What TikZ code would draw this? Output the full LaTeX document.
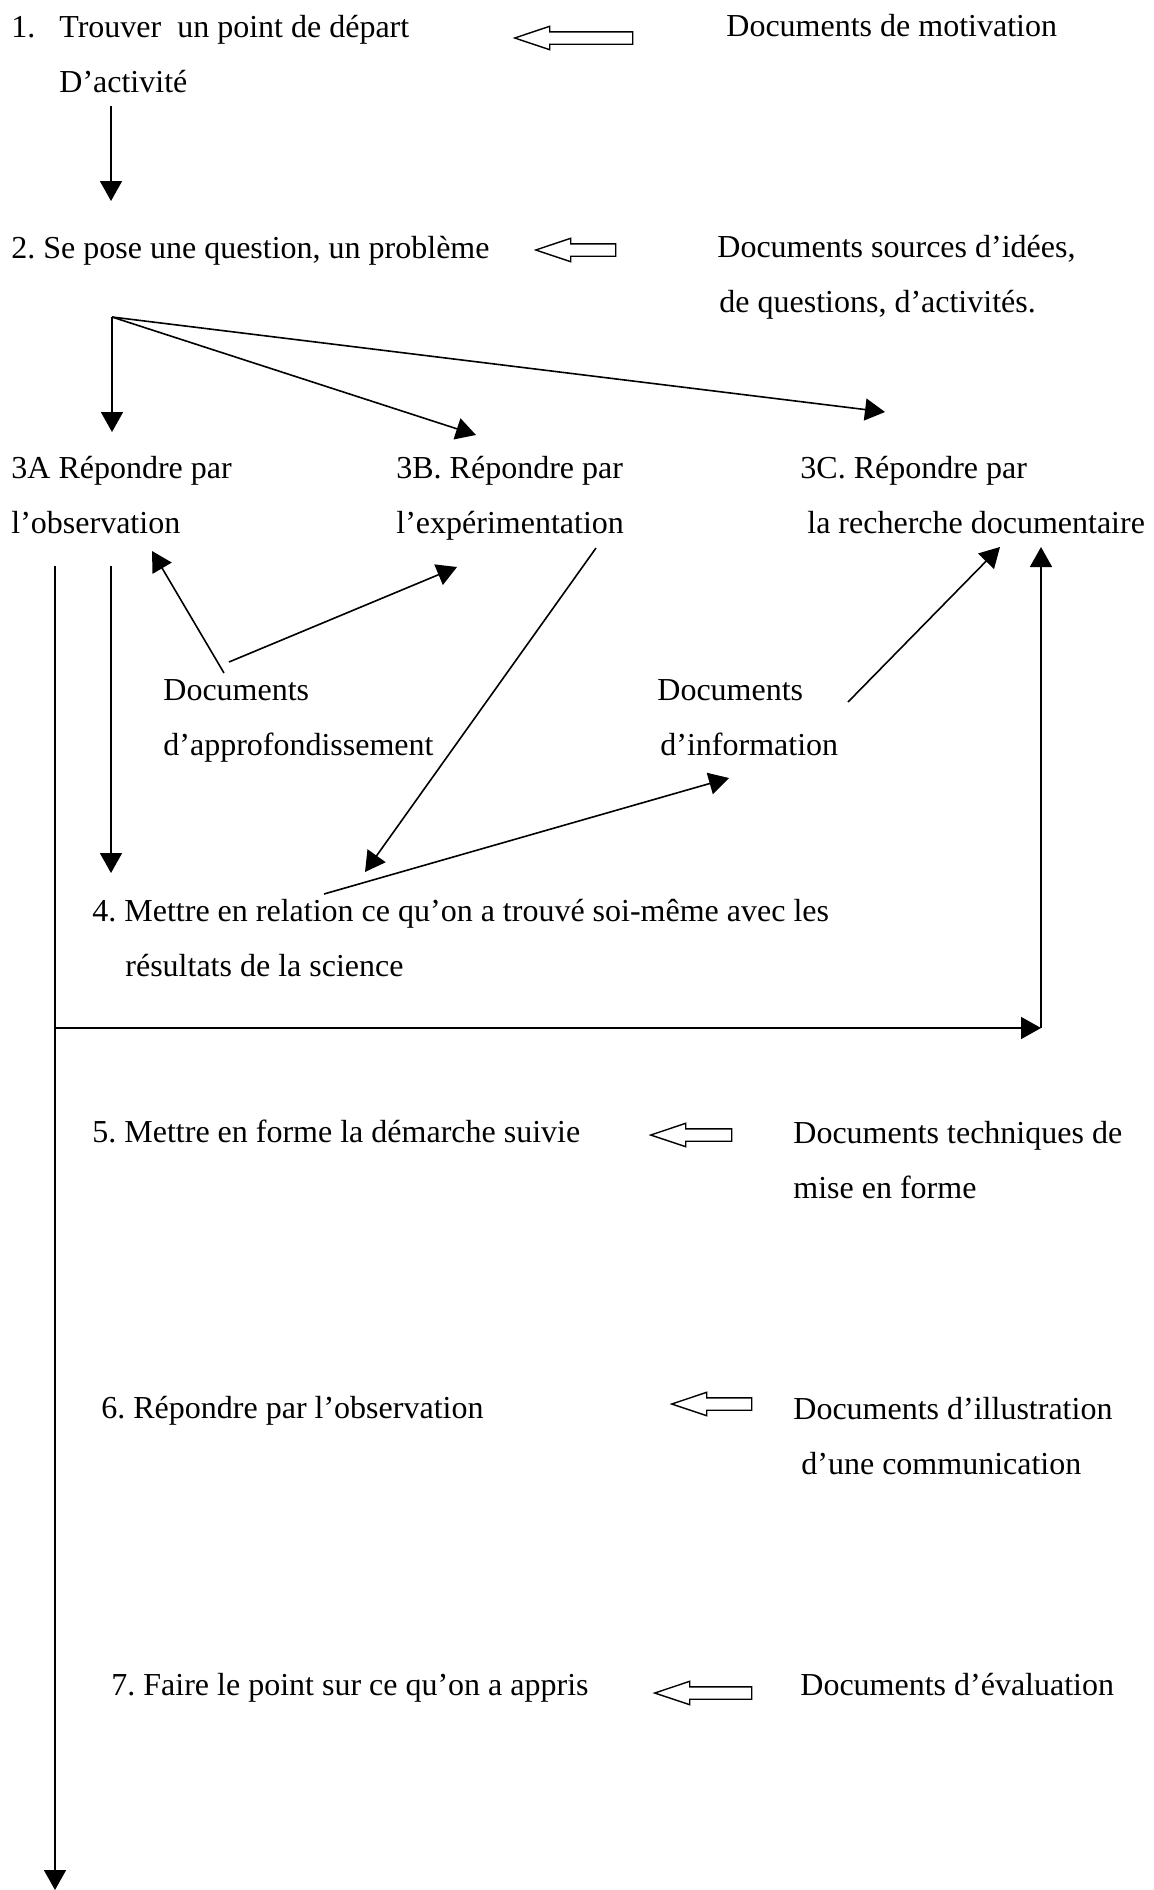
\documentclass[tikz,border=0pt]{standalone}
\usepackage{fontspec}
\setmainfont{Liberation Serif}
\usetikzlibrary{arrows.meta,shapes.arrows}
\tikzset{
  stepText/.style={anchor=base west, inner sep=0pt, align=left,
    font=\fontsize{16pt}{27.5pt}\selectfont\frenchspacing},
  docText/.style={stepText},
  flowArrow/.style={line width=0.8pt, -{Triangle[length=10pt,width=11pt]}},
  docArrow/.style={single arrow, draw, line width=0.7pt,
    shape border rotate=180, inner sep=0pt, inner ysep=2.75pt,
    single arrow head extend=2.75pt, single arrow tip angle=37,
    minimum width=11pt}
}

\begin{document}
\begin{tikzpicture}[x=0.5pt, y=-0.5pt]
  \useasboundingbox (0,0) rectangle (1153,1890);

  % steps of the approach (base = last line)
  \node[stepText] (s1) at (11,92) {\makebox[24pt][l]{1.}Trouver\ \ un point de départ\\\hspace*{24pt}D’activité};
  \node[stepText] (s2) at (11,258) {2. Se pose une question, un problème};
  \node[stepText] (s3a) at (11,533) {3A Répondre par\\l’observation};
  \node[stepText] (s3b) at (396,533) {3B. Répondre par\\l’expérimentation};
  \node[stepText] (s3c) at (800,533) {3C. Répondre par\\\hspace*{3.5pt}la recherche documentaire};
  \node[stepText] (s4) at (92,976) {4. Mettre en relation ce qu’on a trouvé soi-même avec les\\\hspace*{16.5pt}résultats de la science};
  \node[stepText] (s5) at (92,1142) {5. Mettre en forme la démarche suivie};
  \node[stepText] (s6) at (101,1418) {6. Répondre par l’observation};
  \node[stepText] (s7) at (111,1695) {7. Faire le point sur ce qu’on a appris};

  % documents
  \node[docText] (d1) at (726,36) {Documents de motivation};
  \node[docText] (d2) at (717,312) {Documents sources d’idées,\\\hspace*{1pt}de questions, d’activités.};
  \node[docText] (dappro) at (163,755) {Documents\\d’approfondissement};
  \node[docText] (dinfo) at (657,755) {Documents\\\hspace*{1.5pt}d’information};
  \node[docText] (d5) at (793,1198) {Documents techniques de\\mise en forme};
  \node[docText] (d6) at (793,1474) {Documents d’illustration\\\hspace*{4pt}d’une communication};
  \node[docText] (d7) at (800,1695) {Documents d’évaluation};

  % hollow arrows
  \node[docArrow, minimum height=59pt] (a1) at (583,38) {};
  \node[docArrow, minimum height=40pt] (a2) at (585,250) {};
  \node[docArrow, minimum height=40.5pt] (a5) at (700.5,1135) {};
  \node[docArrow, minimum height=40pt] (a6) at (721,1404) {};
  \node[docArrow, minimum height=48.5pt] (a7) at (712.5,1693) {};

  % ends of the connectors
  \coordinate (s1out) at (111,106);
  \coordinate (s2in) at (111,201);
  \coordinate (fan) at (112,317);
  \coordinate (s3ain) at (112,432);
  \coordinate (s3bin) at (476,435);
  \coordinate (s3cin) at (885,412);
  \coordinate (mainTop) at (55,566);
  \coordinate (mainEnd) at (55,1890);
  \coordinate (corner) at (1041,1028);
  \coordinate (s3cback) at (1041,547);
  \coordinate (s3aout) at (111,566);
  \coordinate (s4in) at (111,873);
  \coordinate (approOut) at (224,673);
  \coordinate (s3aback) at (152,551);
  \coordinate (approOut2) at (229,662);
  \coordinate (s3bback) at (457,567);
  \coordinate (s3bout) at (596,548);
  \coordinate (s4in2) at (365,872);
  \coordinate (s4out) at (324,894);
  \coordinate (infoIn) at (729,778);
  \coordinate (infoOut) at (848,702);
  \coordinate (s3cin2) at (1000,547);

  \draw[flowArrow] (s1out) -- (s2in);
  \draw[flowArrow] (fan) -- (s3ain);
  \draw[flowArrow] (fan) -- (s3bin);
  \draw[flowArrow] (fan) -- (s3cin);
  \draw[flowArrow] (s3aout) -- (s4in);
  \draw[flowArrow] (approOut) -- (s3aback);
  \draw[flowArrow] (approOut2) -- (s3bback);
  \draw[flowArrow] (s3bout) -- (s4in2);
  \draw[flowArrow] (s4out) -- (infoIn);
  \draw[flowArrow] (infoOut) -- (s3cin2);

  % loop back to 3C and main line
  \draw[flowArrow] (mainTop) -- (mainEnd);
  \draw[flowArrow] (mainTop |- corner) -- (corner);
  \draw[flowArrow] (corner) -- (s3cback);
\end{tikzpicture}
\end{document}
